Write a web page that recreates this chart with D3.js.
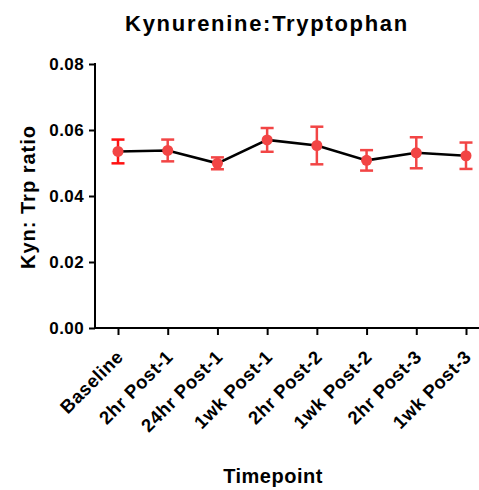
<!DOCTYPE html>
<style>
body { margin: 0; background: white; }
text { font-family: "Liberation Sans", Arial, sans-serif; font-weight: bold; }
</style>
<svg width="479" height="490"></svg>
<script src="https://cdnjs.cloudflare.com/ajax/libs/d3/7.8.5/d3.min.js"></script>
<script>

var timepoints = ["Baseline", "2hr Post-1", "24hr Post-1", "1wk Post-1", "2hr Post-2", "1wk Post-2", "2hr Post-3", "1wk Post-3"];
var means = [0.0535, 0.0538, 0.0499, 0.0570, 0.0553, 0.0508, 0.0531, 0.0522];
var errs = [0.0036, 0.0033, 0.0018, 0.0036, 0.0057, 0.0031, 0.0047, 0.0040];
var yTicks = [0, 0.02, 0.04, 0.06, 0.08];

var svg = d3.select("svg");

var x = d3.scalePoint()
    .domain(timepoints)
    .range([118, 466]);

var y = d3.scaleLinear()
    .domain([0, 0.08])
    .range([328, 64]);

var data = timepoints.map(function(t, i) { return {t: t, m: means[i], e: errs[i]}; });

// axes
var yAxis = svg.append("g")
    .attr("transform", "translate(95,0)")
    .call(d3.axisLeft(y).tickValues(yTicks).tickFormat(d3.format(".2f")).tickSize(6).tickSizeOuter(0));
yAxis.select(".domain").attr("stroke-width", 2).attr("d", "M0,63V329");
yAxis.selectAll(".tick line").attr("stroke-width", 2);
yAxis.selectAll(".tick text").attr("font-size", 17).attr("letter-spacing", 0.4).attr("x", -11).attr("fill", "#000");

var xAxis = svg.append("g")
    .attr("transform", "translate(0,328)")
    .call(d3.axisBottom(x).tickSize(7).tickSizeOuter(0));
xAxis.select(".domain").attr("stroke-width", 2).attr("d", "M94,0H495");
xAxis.selectAll(".tick line").attr("stroke-width", 2);
xAxis.selectAll(".tick text")
    .attr("font-size", 18.5)
    .attr("letter-spacing", 0.5)
    .attr("fill", "#000")
    .attr("text-anchor", "end")
    .attr("dy", null)
    .attr("y", 0)
    .attr("transform", "translate(6,30) rotate(-45)");

// line
svg.append("path")
    .datum(data)
    .attr("fill", "none")
    .attr("stroke", "#000")
    .attr("stroke-width", 2.5)
    .attr("d", d3.line().x(function(d) { return x(d.t); }).y(function(d) { return y(d.m); }));

// error bars
var bars = svg.selectAll("g.err")
    .data(data)
    .enter()
    .append("g")
    .attr("class", "err")
    .attr("stroke", function(d, i) { return i == 0 ? "#ff1111" : "#f24545"; })
    .attr("stroke-width", 2.5);

bars.append("line")
    .attr("x1", function(d) { return x(d.t); })
    .attr("x2", function(d) { return x(d.t); })
    .attr("y1", function(d) { return y(d.m + d.e); })
    .attr("y2", function(d) { return y(d.m - d.e); });
bars.append("line")
    .attr("x1", function(d) { return x(d.t) - 6.5; })
    .attr("x2", function(d) { return x(d.t) + 6.5; })
    .attr("y1", function(d) { return y(d.m + d.e); })
    .attr("y2", function(d) { return y(d.m + d.e); });
bars.append("line")
    .attr("x1", function(d) { return x(d.t) - 6.5; })
    .attr("x2", function(d) { return x(d.t) + 6.5; })
    .attr("y1", function(d) { return y(d.m - d.e); })
    .attr("y2", function(d) { return y(d.m - d.e); });

svg.selectAll("circle.pt")
    .data(data)
    .enter()
    .append("circle")
    .attr("class", "pt")
    .attr("cx", function(d) { return x(d.t); })
    .attr("cy", function(d) { return y(d.m); })
    .attr("r", 5.5)
    .attr("fill", "#f24545");

// titles
svg.append("text")
    .attr("x", 267)
    .attr("y", 31)
    .attr("text-anchor", "middle")
    .attr("font-size", 22)
    .attr("letter-spacing", 1.7)
    .text("Kynurenine:Tryptophan");

svg.append("text")
    .attr("transform", "translate(35,197) rotate(-90)")
    .attr("text-anchor", "middle")
    .attr("font-size", 20)
    .attr("letter-spacing", 1)
    .text("Kyn: Trp ratio");

svg.append("text")
    .attr("x", 273)
    .attr("y", 483)
    .attr("text-anchor", "middle")
    .attr("font-size", 20)
    .attr("letter-spacing", 0.5)
    .text("Timepoint");

</script>
